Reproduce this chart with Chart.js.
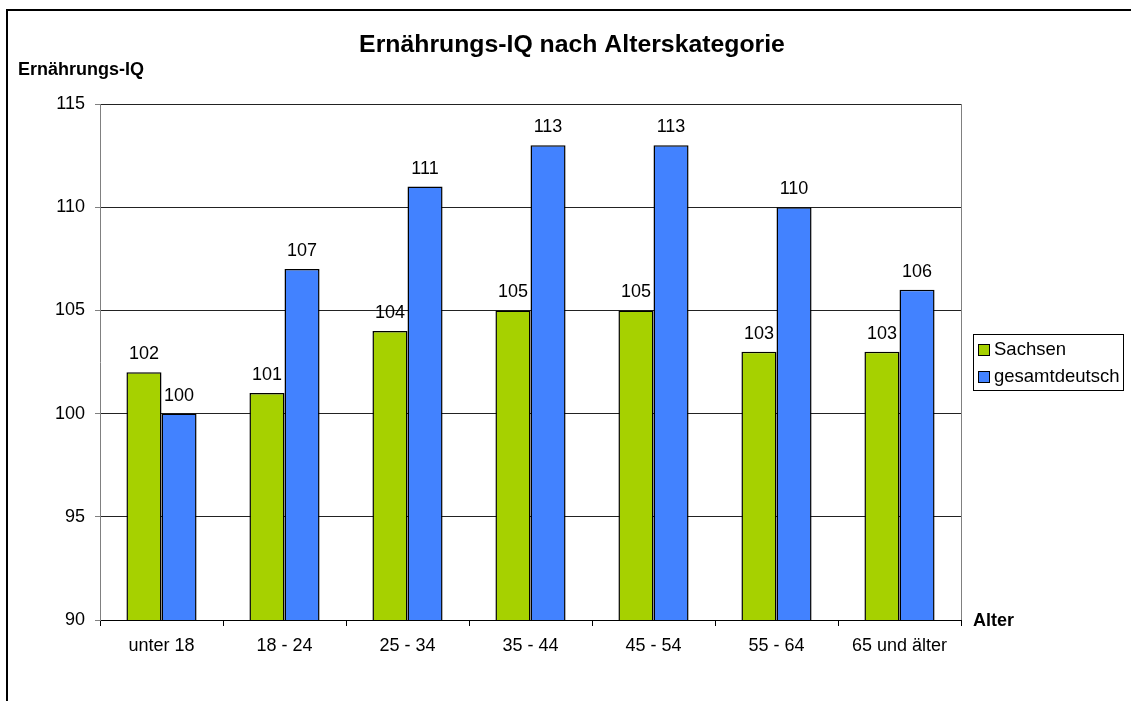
<!DOCTYPE html>
<html>
<head>
<meta charset="utf-8">
<script src="https://cdn.jsdelivr.net/npm/chart.js@4.4.1/dist/chart.umd.min.js"></script>
<style>
  body { margin: 0; background: #fff; }
  canvas { display: block; }
</style>
</head>
<body>
<canvas id="myChart" width="1131" height="701"></canvas>
<script>
var categories = ["unter 18", "18 - 24", "25 - 34", "35 - 44", "45 - 54", "55 - 64", "65 und älter"];
var sachsen = [102, 101, 104, 105, 105, 103, 103];
var gesamtdeutsch = [100, 107, 111, 113, 113, 110, 106];
var seriesNames = ["Sachsen", "gesamtdeutsch"];
var barColors = ["#a6d100", "#4282ff"];
var yTicks = [90, 95, 100, 105, 110, 115];

var FONT = "'Liberation Sans', Arial, sans-serif";

// frame, titles, data labels and legend
var extras = {
  id: 'extras',
  afterDraw: function (chart) {
    const ctx = chart.ctx;
    const area = chart.chartArea;
    ctx.save();

    // outer frame
    ctx.strokeStyle = '#000';
    ctx.lineWidth = 2;
    ctx.strokeRect(7, 10, 2000, 2000);

    // right border of plot area
    ctx.strokeStyle = '#808080';
    ctx.lineWidth = 1;
    ctx.beginPath();
    ctx.moveTo(area.right + 0.5, area.top);
    ctx.lineTo(area.right + 0.5, area.bottom);
    ctx.stroke();

    ctx.fillStyle = '#000';
    ctx.textBaseline = 'middle';

    ctx.font = 'bold 24.8px ' + FONT;
    ctx.textAlign = 'center';
    ctx.fillText('Ernährungs-IQ nach Alterskategorie', 572, 45);

    ctx.font = 'bold 18px ' + FONT;
    ctx.textAlign = 'left';
    ctx.fillText('Ernährungs-IQ', 18, 70);
    ctx.fillText('Alter', 973, 621);

    // value labels
    ctx.font = '18px ' + FONT;
    ctx.textAlign = 'center';
    ctx.textBaseline = 'alphabetic';
    chart.data.datasets.forEach(function (ds, i) {
      chart.getDatasetMeta(i).data.forEach(function (bar, j) {
        ctx.fillText(ds.data[j], bar.x, bar.y - 13);
      });
    });

    // legend
    ctx.strokeStyle = '#000';
    ctx.lineWidth = 1;
    ctx.strokeRect(973.5, 334.5, 150, 56);
    ctx.font = '18.5px ' + FONT;
    ctx.textAlign = 'left';
    ctx.textBaseline = 'middle';
    seriesNames.forEach(function (name, i) {
      const y = 350 + i * 27;
      ctx.fillStyle = barColors[i];
      ctx.fillRect(978, y - 6, 12, 12);
      ctx.strokeRect(978.5, y - 5.5, 11, 11);
      ctx.fillStyle = '#000';
      ctx.fillText(name, 994, y);
    });

    ctx.restore();
  }
};

new Chart("myChart", {
  type: "bar",
  data: {
    labels: categories,
    datasets: [{
      label: seriesNames[0],
      data: sachsen,
      backgroundColor: barColors[0],
      borderColor: '#000',
      borderWidth: 1.5,
      borderSkipped: false
    }, {
      label: seriesNames[1],
      data: gesamtdeutsch,
      backgroundColor: barColors[1],
      borderColor: '#000',
      borderWidth: 1.5,
      borderSkipped: false
    }]
  },
  options: {
    responsive: false,
    animation: false,
    devicePixelRatio: 1,
    categoryPercentage: 0.57,
    barPercentage: 1,
    layout: { padding: { top: 104, right: 170, bottom: 0, left: 0 } },
    plugins: {
      legend: { display: false },
      tooltip: { enabled: false }
    },
    scales: {
      x: {
        grid: { display: true, drawOnChartArea: false, offset: true, tickLength: 6, tickColor: '#000' },
        border: { color: '#000' },
        ticks: { color: '#000', font: { family: FONT, size: 18 }, padding: 9, maxRotation: 0 },
        afterFit: function (scale) { scale.height = 81; }
      },
      y: {
        min: 90,
        max: 115,
        afterBuildTicks: function (scale) { scale.ticks = yTicks.map(function (v) { return { value: v }; }); },
        grid: { color: '#222', tickColor: '#808080', tickLength: 5 },
        border: { color: '#808080' },
        ticks: { color: '#000', font: { family: FONT, size: 18 }, padding: 10 },
        afterFit: function (scale) { scale.width = 100; }
      }
    }
  },
  plugins: [extras]
});
</script>
</body>
</html>
